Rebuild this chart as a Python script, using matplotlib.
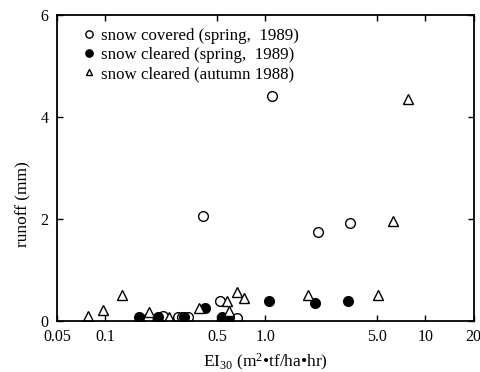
import matplotlib
matplotlib.use("Agg")
import matplotlib.pyplot as plt
from matplotlib.ticker import FixedLocator, FixedFormatter, NullLocator

plt.rcParams['font.family'] = ['Liberation Serif', 'DejaVu Serif']
plt.rcParams['mathtext.fontset'] = 'custom'
plt.rcParams['mathtext.rm'] = 'Liberation Serif'
plt.rcParams['mathtext.it'] = 'Liberation Serif:italic'

# snow covered (spring, 1989)
covered_x = [0.185, 0.231, 0.284, 0.302, 0.331, 0.411, 0.523, 0.665, 1.10, 2.13, 3.40]
covered_y = [0.05, 0.10, 0.085, 0.085, 0.07, 2.06, 0.39, 0.05, 4.41, 1.75, 1.93]

# snow cleared (spring, 1989)
cleared_x = [0.163, 0.215, 0.312, 0.422, 0.535, 0.59, 1.05, 2.05, 3.28]
cleared_y = [0.07, 0.07, 0.07, 0.25, 0.07, 0.07, 0.40, 0.35, 0.40]

# snow cleared (autumn 1988)
autumn_x = [0.078, 0.097, 0.127, 0.187, 0.251, 0.383, 0.575, 0.59, 0.665, 0.732,
            1.85, 5.06, 6.25, 7.79]
autumn_y = [0.10, 0.22, 0.52, 0.17, 0.085, 0.26, 0.39, 0.20, 0.575, 0.46,
            0.51, 0.52, 1.96, 4.35]

xticks = [0.05, 0.1, 0.5, 1.0, 5.0, 10, 20]
xticklabels = ['0.05', '0.1', '0.5', '1.0', '5.0', '10', '20']
yticks = [0, 2, 4, 6]

fig = plt.figure(figsize=(4.81, 3.72), dpi=100)
ax = fig.add_axes([0.1185, 0.137, 0.866, 0.823])

ax.plot(covered_x, covered_y, 'o', mfc='white', mec='black', mew=1.0, ms=7,
        linestyle='none', label='snow covered (spring,  1989)')
ax.plot(cleared_x, cleared_y, 'o', mfc='black', mec='black', ms=7,
        linestyle='none', label='snow cleared (spring,  1989)')
ax.plot(autumn_x, autumn_y, '^', mfc='white', mec='black', mew=1.0, ms=6.5,
        linestyle='none', label='snow cleared (autumn 1988)')

ax.set_xscale('log')
ax.set_xlim(0.05, 20)
ax.set_ylim(0, 6)
ax.xaxis.set_major_locator(FixedLocator(xticks))
ax.xaxis.set_major_formatter(FixedFormatter(xticklabels))
ax.xaxis.set_minor_locator(NullLocator())
ax.set_yticks(yticks)

ax.tick_params(direction='in', top=True, right=True, length=4, width=1,
               labelsize=11.5, pad=6)
for s in ax.spines.values():
    s.set_linewidth(1.3)

ax.set_xlabel('EI$_{30}$ (m$^{2}$\u2022tf/ha\u2022hr)', fontsize=12.5, labelpad=5)
ax.set_ylabel('runoff (mm)', fontsize=12.5)
ax.yaxis.set_label_coords(-0.062, 0.382)

ax.legend(loc='upper left', bbox_to_anchor=(0.025, 1.0), frameon=False,
          fontsize=12.2, handletextpad=0.25, borderaxespad=0.35,
          labelspacing=0.2, markerscale=0.75, handlelength=1.0, borderpad=0.4)

fig.savefig('out.png', dpi=100)
